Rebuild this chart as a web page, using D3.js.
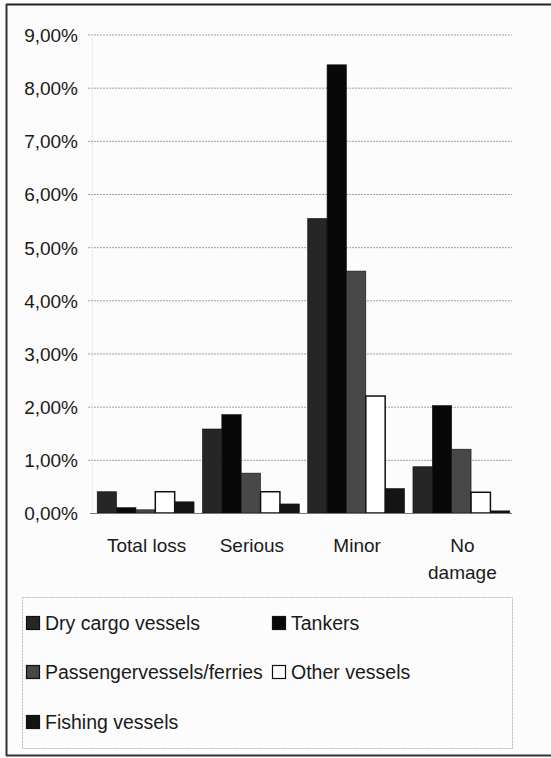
<!DOCTYPE html>
<html>
<head>
<meta charset="utf-8">
<script src="https://cdn.jsdelivr.net/npm/d3@7"></script>
<style>
  html, body { margin: 0; padding: 0; background: #fff; }
  svg { display: block; font-family: "Liberation Sans", Arial, Helvetica, sans-serif; }
</style>
</head>
<body>
<svg id="chart" width="551" height="758"></svg>
<script>
const categories = ["Total loss", "Serious", "Minor", "No damage"];
const seriesNames = ["Dry cargo vessels", "Tankers", "Passengervessels/ferries", "Other vessels", "Fishing vessels"];
const dryCargo   = [0.40, 1.58, 5.54, 0.87];
const tankers    = [0.10, 1.85, 8.43, 2.02];
const passenger  = [0.06, 0.75, 4.55, 1.20];
const other      = [0.40, 0.40, 2.20, 0.39];
const fishing    = [0.21, 0.17, 0.46, 0.04];
const yTicks = [0, 1, 2, 3, 4, 5, 6, 7, 8, 9];
const seriesValues = [dryCargo, tankers, passenger, other, fishing];
const seriesFill = ["#262626", "#080808", "#484848", "#ffffff", "#141414"];

const svg = d3.select("#chart");

// frame (scanned page border)
svg.append("rect").attr("x", 0).attr("y", 0).attr("width", 551).attr("height", 758).attr("fill", "#fcfcfc");
svg.append("line").attr("x1", 6).attr("x2", 551).attr("y1", 4.5).attr("y2", 4.5).attr("stroke", "#222").attr("stroke-width", 2);
svg.append("line").attr("x1", 6.5).attr("x2", 6.5).attr("y1", 4).attr("y2", 756).attr("stroke", "#333").attr("stroke-width", 2);
svg.append("line").attr("x1", 6).attr("x2", 551).attr("y1", 755.5).attr("y2", 755.5).attr("stroke", "#333").attr("stroke-width", 2);

const plotLeft = 93, plotRight = 514;
const x = d3.scaleBand().domain(categories).range([plotLeft, plotRight]).paddingInner(0.08).paddingOuter(0.04);
const xs = d3.scaleBand().domain(d3.range(seriesNames.length)).range([0, x.bandwidth()]);
const y = d3.scaleLinear().domain([0, 9]).range([513, 34.5]);

// gridlines
const grid = svg.append("g");
grid.selectAll("line").data(yTicks.filter(d => d > 0)).join("line")
  .attr("x1", 88).attr("x2", 512)
  .attr("y1", d => y(d) + 0.5).attr("y2", d => y(d) + 0.5)
  .attr("stroke", "#a0a0a0").attr("stroke-width", 1).attr("stroke-dasharray", "2,1");

// vertical axis (faint)
svg.append("line").attr("x1", 92.5).attr("x2", 92.5).attr("y1", y(9)).attr("y2", y(0))
  .attr("stroke", "#e0e0e0").attr("stroke-dasharray", "2,2");

// y axis labels
const yAxis = d3.axisLeft(y).tickValues(yTicks).tickSize(0).tickPadding(0)
  .tickFormat(d => d3.format(".2f")(d).replace(".", ",") + "%");
const yg = svg.append("g").attr("transform", "translate(78,0)").call(yAxis);
yg.select(".domain").remove();
yg.selectAll("text").attr("font-size", 19).attr("fill", "#1a1a1a").attr("dy", "0.36em")
  .attr("font-family", "'Liberation Sans', Arial, sans-serif");

// bars
const groups = svg.append("g").selectAll("g").data(categories).join("g")
  .attr("transform", d => `translate(${x(d)},0)`);
groups.selectAll("rect").data((c, ci) => seriesValues.map((vals, si) => ({ si, v: vals[ci] }))).join("rect")
  .attr("x", d => xs(d.si))
  .attr("width", xs.bandwidth())
  .attr("y", d => y(d.v))
  .attr("height", d => y(0) - y(d.v))
  .attr("fill", d => seriesFill[d.si])
  .attr("stroke", "#111").attr("stroke-width", d => d.si === 3 ? 1.5 : 0.6);

// baseline
svg.append("line").attr("x1", 90).attr("x2", 512).attr("y1", y(0) + 0.5).attr("y2", y(0) + 0.5)
  .attr("stroke", "#777").attr("stroke-width", 1);

// x axis labels
const xLabelLines = [["Total loss"], ["Serious"], ["Minor"], ["No", "damage"]];
const xl = svg.append("g").selectAll("text").data(categories).join("text")
  .attr("x", d => x(d) + x.bandwidth() / 2 + 1)
  .attr("y", 552)
  .attr("text-anchor", "middle").attr("font-size", 19).attr("fill", "#1a1a1a");
xl.each(function(d, i) {
  d3.select(this).selectAll("tspan").data(xLabelLines[i]).join("tspan")
    .attr("x", x(d) + x.bandwidth() / 2 + 1)
    .attr("dy", (t, j) => j === 0 ? 0 : 27)
    .text(t => t);
});

// legend
svg.append("rect").attr("x", 22.5).attr("y", 597.5).attr("width", 490).attr("height", 151)
  .attr("fill", "none").attr("stroke", "#b8b8b8").attr("stroke-dasharray", "2,1");
const legendPos = [[26, 623], [272, 623], [26, 672], [272, 672], [26, 722]];
const lg = svg.append("g").selectAll("g").data(seriesNames).join("g")
  .attr("transform", (d, i) => `translate(${legendPos[i][0]},${legendPos[i][1]})`);
lg.append("rect").attr("x", 0.5).attr("y", -6.5).attr("width", 13).attr("height", 13)
  .attr("fill", (d, i) => seriesFill[i]).attr("stroke", "#111").attr("stroke-width", 1.2);
lg.append("text").attr("x", 19).attr("y", 0).attr("dy", "0.35em")
  .attr("font-size", 19.5).attr("fill", "#1a1a1a").text(d => d);
</script>
</body>
</html>
